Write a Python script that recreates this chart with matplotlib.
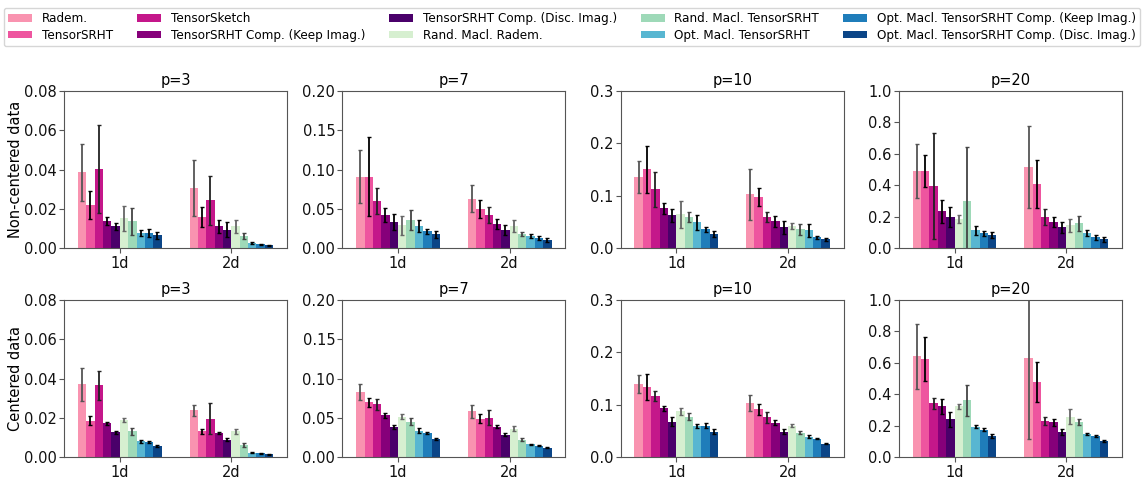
import numpy as np
import matplotlib
matplotlib.use("Agg")
import matplotlib.pyplot as plt

methods = ["Radem.", "TensorSRHT", "TensorSketch", "TensorSRHT Comp. (Keep Imag.)",
           "TensorSRHT Comp. (Disc. Imag.)", "Rand. Macl. Radem.", "Rand. Macl. TensorSRHT",
           "Opt. Macl. TensorSRHT", "Opt. Macl. TensorSRHT Comp. (Keep Imag.)",
           "Opt. Macl. TensorSRHT Comp. (Disc. Imag.)"]
colors = ["#f993b0", "#ee559f", "#c4178a", "#86007a", "#4a006a",
          "#d6efd0", "#9ed9b8", "#58b6d1", "#1f7dba", "#0b4587"]
ecolors = ["#555555", "#000000", "#222222", "#000000", "#000000",
           "#666666", "#444444", "#000000", "#000000", "#000000"]
groups = ["1d", "2d"]
degrees = ["p=3", "p=7", "p=10", "p=20"]
row_labels = ["Non-centered data", "Centered data"]
ylims = [0.08, 0.20, 0.3, 1.0]
yticks = [[0, 0.02, 0.04, 0.06, 0.08], [0, 0.05, 0.10, 0.15, 0.20],
          [0, 0.1, 0.2, 0.3], [0, 0.2, 0.4, 0.6, 0.8, 1.0]]
ytickfmt = ["%.2f", "%.2f", "%.1f", "%.1f"]

# ---- Non-centered data: mean values [1d, 2d] per method ----
nc_p3_mean = [[0.0385, 0.0305], [0.0218, 0.0157], [0.0402, 0.0243], [0.0136, 0.0110], [0.0110, 0.0094],
              [0.0151, 0.0110], [0.0136, 0.0060], [0.0077, 0.0024], [0.0077, 0.0019], [0.0065, 0.0014]]
nc_p3_err = [[0.0147, 0.0142], [0.0072, 0.0050], [0.0223, 0.0125], [0.0020, 0.0031], [0.0018, 0.0037],
             [0.0063, 0.0032], [0.0068, 0.0015], [0.0014, 0.0005], [0.0019, 0.0003], [0.0018, 0.0003]]
nc_p7_mean = [[0.091, 0.0627], [0.091, 0.0498], [0.060, 0.042], [0.042, 0.0305], [0.033, 0.0227],
              [0.0292, 0.0279], [0.0356, 0.018], [0.0279, 0.015], [0.0215, 0.0124], [0.0176, 0.0099]]
nc_p7_err = [[0.034, 0.017], [0.050, 0.012], [0.0165, 0.0107], [0.009, 0.0066], [0.0103, 0.006],
             [0.012, 0.008], [0.0124, 0.003], [0.0073, 0.0026], [0.0032, 0.0024], [0.0043, 0.0024]]
nc_p10_mean = [[0.1353, 0.1027], [0.1506, 0.097], [0.1123, 0.0587], [0.076, 0.051], [0.0625, 0.0396],
               [0.0645, 0.0415], [0.0587, 0.0357], [0.049, 0.0338], [0.0357, 0.0204], [0.0268, 0.0166]]
nc_p10_err = [[0.031, 0.0485], [0.0447, 0.017], [0.033, 0.0096], [0.0105, 0.0108], [0.0128, 0.0121],
              [0.0255, 0.006], [0.0096, 0.0102], [0.0147, 0.0124], [0.0054, 0.0026], [0.0064, 0.003]]
nc_p20_mean = [[0.491, 0.517], [0.491, 0.408], [0.395, 0.197], [0.235, 0.165], [0.197, 0.132],
               [0.184, 0.145], [0.299, 0.158], [0.113, 0.094], [0.094, 0.068], [0.081, 0.056]]
nc_p20_err = [[0.172, 0.259], [0.104, 0.155], [0.34, 0.049], [0.073, 0.032], [0.066, 0.036],
              [0.026, 0.04], [0.347, 0.048], [0.03, 0.019], [0.017, 0.016], [0.018, 0.016]]

# ---- Centered data ----
c_p3_mean = [[0.037, 0.0237], [0.0186, 0.0131], [0.0365, 0.0196], [0.0171, 0.0121], [0.0125, 0.0089],
             [0.0189, 0.013], [0.013, 0.006], [0.008, 0.0022], [0.0075, 0.0019], [0.0055, 0.0014]]
c_p3_err = [[0.0085, 0.0029], [0.0024, 0.0012], [0.0073, 0.0078], [0.0009, 0.0004], [0.001, 0.0007],
            [0.0012, 0.0014], [0.0019, 0.0009], [0.0007, 0.0002], [0.0005, 0.0002], [0.0005, 0.0002]]
c_p7_mean = [[0.0823, 0.058], [0.0695, 0.049], [0.067, 0.0503], [0.0529, 0.0388], [0.0388, 0.0286],
             [0.0516, 0.0362], [0.0452, 0.0222], [0.0337, 0.0162], [0.0311, 0.0145], [0.0235, 0.012]]
c_p7_err = [[0.0102, 0.008], [0.006, 0.006], [0.0066, 0.009], [0.0026, 0.0017], [0.0026, 0.0023],
            [0.003, 0.0034], [0.004, 0.002], [0.003, 0.001], [0.0013, 0.0006], [0.0013, 0.0006]]
c_p10_mean = [[0.1388, 0.1024], [0.133, 0.0908], [0.1158, 0.0755], [0.0928, 0.0659], [0.0678, 0.0486],
              [0.087, 0.0601], [0.0774, 0.0467], [0.0601, 0.039], [0.0601, 0.0352], [0.0486, 0.0256]]
c_p10_err = [[0.017, 0.0154], [0.0247, 0.011], [0.0096, 0.0096], [0.0054, 0.005], [0.0077, 0.0048],
             [0.007, 0.0026], [0.006, 0.003], [0.0038, 0.0026], [0.004, 0.0013], [0.005, 0.0013]]
c_p20_mean = [[0.642, 0.629], [0.623, 0.475], [0.341, 0.232], [0.322, 0.22], [0.239, 0.162],
              [0.322, 0.258], [0.36, 0.226], [0.194, 0.149], [0.175, 0.136], [0.136, 0.104]]
c_p20_err = [[0.206, 0.514], [0.14, 0.127], [0.036, 0.026], [0.048, 0.022], [0.045, 0.019],
             [0.018, 0.049], [0.097, 0.019], [0.009, 0.006], [0.01, 0.006], [0.013, 0.006]]

means = [[nc_p3_mean, nc_p7_mean, nc_p10_mean, nc_p20_mean],
         [c_p3_mean, c_p7_mean, c_p10_mean, c_p20_mean]]
errs = [[nc_p3_err, nc_p7_err, nc_p10_err, nc_p20_err],
        [c_p3_err, c_p7_err, c_p10_err, c_p20_err]]

plt.rcParams['font.family'] = ['DejaVu Sans']
plt.rcParams['axes.edgecolor'] = '#555555'
plt.rcParams['xtick.color'] = '#555555'
plt.rcParams['ytick.color'] = '#555555'
plt.rcParams['xtick.labelcolor'] = '#111111'
plt.rcParams['ytick.labelcolor'] = '#111111'

fig, axes = plt.subplots(2, 4, figsize=(11.44, 4.79), dpi=100)
fig.subplots_adjust(left=0.0559, right=0.9808, bottom=0.0459, top=0.81,
                    wspace=0.2466, hspace=0.331)

x = np.arange(len(groups))
w = 0.075
n = len(methods)
handles = []
for r in range(2):
    for c in range(4):
        ax = axes[r, c]
        for i in range(n):
            m = list(means[r][c][i])
            e = list(errs[r][c][i])
            b = ax.bar(x + (i - (n - 1) / 2) * w, m, width=w, color=colors[i],
                       yerr=e, capsize=1.5, label=methods[i],
                       error_kw=dict(ecolor=ecolors[i], elinewidth=1.3, capthick=1.0))
            if r == 0 and c == 0:
                handles.append(b)
        ax.set_xlim(-0.5, 1.5)
        ax.set_ylim(0, ylims[c])
        ax.set_yticks(yticks[c])
        ax.set_yticklabels([ytickfmt[c] % t for t in yticks[c]])
        ax.set_xticks(x)
        ax.set_xticklabels(groups)
        ax.tick_params(axis='y', labelsize=10.5, length=3.6, pad=1.5)
        ax.tick_params(axis='x', labelsize=10.5, length=3.6, pad=2.5)
        ax.set_title(degrees[c], fontsize=10.5, pad=4)
        if c == 0:
            ax.set_ylabel(row_labels[r], fontsize=10.5, labelpad=1)

fig.legend(handles, methods, loc='upper center', bbox_to_anchor=(0.5, 0.996),
           ncol=5, fontsize=8.65, frameon=True, edgecolor='#cccccc',
           columnspacing=2.0, handlelength=2.0, labelspacing=0.3,
           borderpad=0.35, handleheight=0.6)

fig.savefig("out.png", dpi=100)
